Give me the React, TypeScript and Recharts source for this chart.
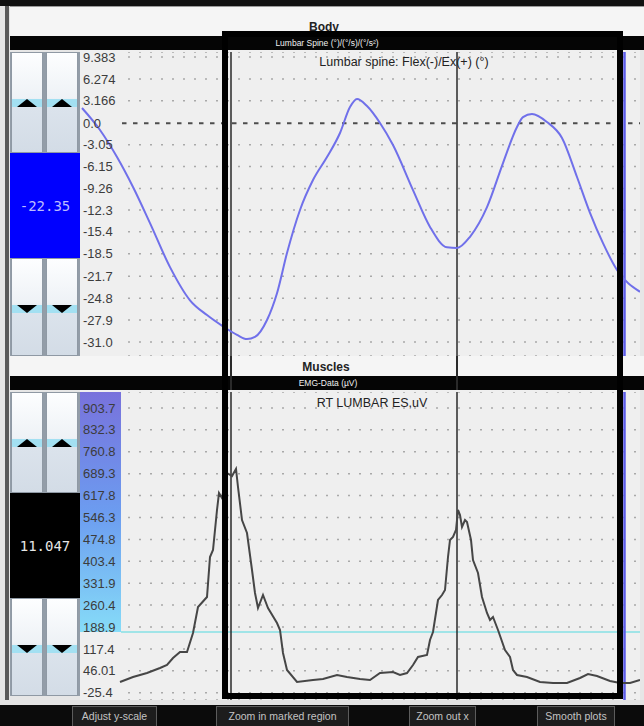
import React from "react";
import {
  CartesianGrid,
  Line,
  LineChart,
  ReferenceArea,
  ReferenceLine,
  XAxis,
  YAxis,
} from "recharts";

// time axis (s) shared by both plots
const T_MAX = 5.6;

// Lumbar spine flexion/extension (deg)
const spineTime = [
  0.02, 0.2, 0.37, 0.53, 0.7, 0.9, 1.1, 1.27, 1.43, 1.57, 1.67, 1.75, 1.87, 1.97,
  2.07, 2.2, 2.33, 2.47, 2.6, 2.7, 2.77, 2.87, 3.0, 3.13, 3.33, 3.5, 3.67, 3.77,
  3.9, 4.07, 4.23, 4.37, 4.43, 4.52, 4.67, 4.82, 4.97, 5.1, 5.23, 5.37, 5.6,
];
const spineAngle = [
  2.15, -0.97, -4.8, -9.05, -14.16, -20.4, -25.1, -27.2, -28.8, -30.0, -30.6,
  -30.3, -27.9, -24.1, -18.4, -12.3, -8.06, -4.8, -1.39, 2.29, 3.43, 2.43, 0.03,
  -3.1, -9.48, -14.7, -17.6, -17.7, -16.1, -11.9, -5.65, -0.54, 0.87, 1.3, 0.16,
  -2.1, -7.63, -12.7, -17.0, -20.8, -23.9,
];
const spineTickLabels = [
  "9.383", "6.274", "3.166", "0.0", "-3.05", "-6.15", "-9.26", "-12.3", "-15.4",
  "-18.5", "-21.7", "-24.8", "-27.9", "-31.0",
];
const spineDomain = [-33.0, 10.09];

// RT lumbar erector spinae EMG (uV)
const emgTime = [
  0.4, 0.53, 0.67, 0.8, 0.87, 0.93, 1.0, 1.07, 1.13, 1.18, 1.27, 1.3, 1.33, 1.37,
  1.39, 1.42, 1.47, 1.52, 1.56, 1.58, 1.62, 1.67, 1.72, 1.75, 1.78, 1.83, 1.88,
  1.97, 2.0, 2.03, 2.07, 2.17, 2.33, 2.43, 2.57, 2.67, 2.8, 2.9, 3.0, 3.13, 3.2,
  3.27, 3.33, 3.38, 3.47, 3.5, 3.53, 3.58, 3.62, 3.65, 3.68, 3.7, 3.73, 3.76,
  3.78, 3.8, 3.82, 3.85, 3.87, 3.91, 3.93, 3.98, 4.02, 4.07, 4.1, 4.13, 4.18,
  4.25, 4.3, 4.33, 4.37, 4.47, 4.6, 4.73, 4.87, 5.0, 5.08, 5.17, 5.3, 5.4, 5.5, 5.6,
];
const emgValue = [
  9.4, 25.7, 38.7, 55.1, 64.9, 87.7, 107.3, 107.3, 169.3, 254.2, 286.8, 417.4,
  440.2, 570.8, 626.3, 609.9, 691.5, 681.7, 704.6, 645.8, 538.1, 495.7, 374.9,
  299.9, 250.9, 293.3, 250.9, 201.9, 179.1, 104, 48.5, 9.4, 15.9, 19.2, 32.2,
  25.7, 19.2, 15.9, 38.7, 42.0, 32.2, 38.7, 64.9, 91.0, 97.5, 146.5, 172.6, 277,
  293.3, 309.7, 417.4, 472.9, 482.7, 505.5, 570.8, 554.5, 515.3, 538.1, 531.6,
  472.9, 407.6, 365.1, 286.8, 234.6, 211.7, 221.5, 179.1, 113.8, 91.0, 48.5, 32.2,
  25.7, 9.4, 6.1, 6.1, 22.4, 35.4, 28.9, 12.6, 6.1, 6.1, 15.9,
];
const emgTickLabels = [
  "903.7", "832.3", "760.8", "689.3", "617.8", "546.3", "474.8", "403.4", "331.9",
  "260.4", "188.9", "117.4", "46.01", "-25.4",
];
const emgDomain = [-49.4, 955.9];
const emgThreshold = 172.6;

// cursors / marked region (s)
const cursorTimes = [1.51, 3.77];
const blueCursor = 5.445;
const markedRegion = [1.42, 5.43];

const spineData = spineTime.map((t, i) => ({ t, v: spineAngle[i] }));
const emgData = emgTime.map((t, i) => ({ t, v: emgValue[i] }));

const PLOT_LEFT = 80;
const PLOT_W = 560;
const tToX = (t: number) => PLOT_LEFT + (t / T_MAX) * PLOT_W;

const FONT = "'Liberation Sans', Arial, sans-serif";
const MONO = "'DejaVu Sans Mono', 'Liberation Mono', monospace";

function labelFor(labels: string[]) {
  return (value: number) =>
    labels.find((l) => Number(l) === value) ?? String(value);
}

function box(left: number, top: number, width: number, height: number, extra: React.CSSProperties = {}): React.CSSProperties {
  return { position: "absolute", left, top, width, height, ...extra };
}

function ArrowButton({ left, top, height, dir }: { left: number; top: number; height: number; dir: "up" | "down" }) {
  const tri: React.CSSProperties =
    dir === "up"
      ? { borderLeft: "10px solid transparent", borderRight: "10px solid transparent", borderBottom: "8px solid #000" }
      : { borderLeft: "10px solid transparent", borderRight: "10px solid transparent", borderTop: "8px solid #000" };
  return (
    <div
      style={box(left, top, 32, height, {
        background: "linear-gradient(#fdfeff, #eef2f6 45%, #dbe3ec 55%, #d3dce6)",
        border: "1px solid #8f99a4",
        boxSizing: "border-box",
      })}
    >
      <div style={box(0, 46, 30, 8, { background: "#a3e0f2" })} />
      <div style={{ position: "absolute", left: 5, top: 46, width: 0, height: 0, ...tri }} />
    </div>
  );
}

function Controls({ top, value, bg, color }: { top: number; value: string; bg: string; color: string }) {
  return (
    <>
      <div style={box(10, top, 70, 304, { background: "#939da8" })} />
      <ArrowButton left={11} top={top} height={101} dir="up" />
      <ArrowButton left={46} top={top} height={101} dir="up" />
      <div
        style={box(10, top + 101, 70, 105, {
          background: bg,
          color,
          fontFamily: MONO,
          fontSize: 14,
          display: "flex",
          alignItems: "center",
          justifyContent: "center",
        })}
      >
        {value}
      </div>
      <ArrowButton left={11} top={top + 206} height={98} dir="down" />
      <ArrowButton left={46} top={top + 206} height={98} dir="down" />
    </>
  );
}

function Button({ left, width, label }: { left: number; width: number; label: string }) {
  return (
    <div
      style={box(left, 706, width, 22, {
        background: "#1d1d1d",
        border: "1px solid #5c5c5c",
        boxSizing: "border-box",
        color: "#c4c4c4",
        fontSize: 10.5,
        fontFamily: FONT,
        lineHeight: "19px",
        textAlign: "center",
      })}
    >
      {label}
    </div>
  );
}

const tickStyle = { fontSize: 13, fill: "#3c3c3c", fontFamily: FONT };

export default function App() {
  return (
    <div
      style={{
        position: "fixed",
        left: 0,
        top: 0,
        width: 644,
        height: 726,
        background: "#e6e6e6",
        overflow: "hidden",
        fontFamily: FONT,
      }}
    >
      {/* window chrome */}
      <div style={box(0, 0, 644, 6, { background: "#111" })} />
      <div style={box(5, 6, 4, 700, { background: "#5a5a5a" })} />
      <div style={box(10, 6, 634, 30, { background: "#f5f5f5", borderTop: "1px solid #9a9a9a", boxSizing: "border-box" })} />
      <div style={box(0, 20, 648, 16, { textAlign: "center", fontWeight: "bold", fontSize: 12, color: "#222" })}>Body</div>
      <div style={box(10, 36, 634, 14, { background: "#050505" })} />
      <div style={box(0, 37, 654, 12, { textAlign: "center", fontSize: 8.5, color: "#f0f0f0", lineHeight: "12px" })}>
        Lumbar Spine (°)/(°/s)/(°/s²)
      </div>

      {/* spine plot */}
      <div style={box(80, 50, 560, 306, { background: "#efefef" })} />
      <div style={box(80, 52, 560, 304)}>
        <LineChart width={560} height={304} data={spineData} margin={{ top: 0, right: 0, bottom: 0, left: 0 }}>
          <XAxis type="number" dataKey="t" domain={[0, T_MAX]} hide allowDataOverflow />
          <YAxis
            type="number"
            domain={spineDomain}
            ticks={spineTickLabels.map(Number)}
            interval={0}
            allowDataOverflow
            mirror
            axisLine={false}
            tickLine={false}
            tickSize={0}
            tickMargin={3}
            tick={tickStyle}
            tickFormatter={labelFor(spineTickLabels)}
          />
          <CartesianGrid x={48} width={512} vertical={false} stroke="#a9a9a9" strokeWidth={1.5} strokeDasharray="2 9" />
          <ReferenceLine
            segment={[{ x: 0.42, y: 0 }, { x: T_MAX, y: 0 }]}
            stroke="#efefef"
            strokeWidth={3}
          />
          <ReferenceLine
            segment={[{ x: 0.42, y: 0 }, { x: T_MAX, y: 0 }]}
            stroke="#4d4d4d"
            strokeWidth={2}
            strokeDasharray="4.5 6.5"
          />
          {cursorTimes.map((t) => (
            <ReferenceLine key={t} x={t} stroke="#2a2a2a" strokeWidth={1.5} />
          ))}
          <ReferenceLine x={blueCursor} stroke="#5c5ce8" strokeWidth={2.5} />
          <Line
            type="monotone"
            dataKey="v"
            stroke="#7070ea"
            strokeWidth={2}
            dot={false}
            isAnimationActive={false}
          />
        </LineChart>
      </div>
      <div style={box(404, 55, 0, 16)}>
        <div style={{ position: "absolute", transform: "translateX(-50%)", whiteSpace: "nowrap", fontSize: 12.5, color: "#222" }}>
          Lumbar spine: Flex(-)/Ex(+) (°)
        </div>
      </div>
      <Controls top={52} value="-22.35" bg="#0000ff" color="#bcbcff" />

      {/* muscles header */}
      <div style={box(10, 356, 634, 20, { background: "#f5f5f5" })} />
      <div style={box(0, 360, 652, 16, { textAlign: "center", fontWeight: "bold", fontSize: 12, color: "#222" })}>Muscles</div>
      <div style={box(10, 376, 634, 14, { background: "#050505" })} />
      <div style={box(10, 377, 634, 12)}>
        <div style={{ position: "absolute", left: 318, transform: "translateX(-50%)", fontSize: 8.5, color: "#f0f0f0", lineHeight: "12px", whiteSpace: "nowrap" }}>
          EMG-Data (µV)
        </div>
      </div>

      {/* EMG plot */}
      <div style={box(80, 390, 560, 310, { background: "#efefef" })} />
      <div style={box(80, 392, 560, 308)}>
        <LineChart width={560} height={308} data={emgData} margin={{ top: 0, right: 0, bottom: 0, left: 0 }}>
          <defs>
            <linearGradient id="emgScale" x1="0" y1="0" x2="0" y2="1">
              <stop offset="0%" stopColor="#7872dc" />
              <stop offset="50%" stopColor="#6c9cf0" />
              <stop offset="100%" stopColor="#86dcf8" />
            </linearGradient>
          </defs>
          <XAxis type="number" dataKey="t" domain={[0, T_MAX]} hide allowDataOverflow />
          <ReferenceArea x1={0} x2={0.41} y1={emgThreshold} y2={emgDomain[1]} fill="url(#emgScale)" fillOpacity={1} stroke="none" />
          <CartesianGrid x={48} width={512} vertical={false} stroke="#a9a9a9" strokeWidth={1.5} strokeDasharray="2 9" />
          <ReferenceLine
            segment={[{ x: 0.41, y: emgThreshold }, { x: T_MAX, y: emgThreshold }]}
            stroke="#86e0e4"
            strokeWidth={1.5}
          />
          {cursorTimes.map((t) => (
            <ReferenceLine key={t} x={t} stroke="#2a2a2a" strokeWidth={1.5} />
          ))}
          <ReferenceLine x={blueCursor} stroke="#5c5ce8" strokeWidth={2.5} />
          <YAxis
            type="number"
            domain={emgDomain}
            ticks={emgTickLabels.map(Number)}
            interval={0}
            allowDataOverflow
            mirror
            axisLine={false}
            tickLine={false}
            tickSize={0}
            tickMargin={3}
            tick={tickStyle}
            tickFormatter={labelFor(emgTickLabels)}
          />
          <Line
            type="linear"
            dataKey="v"
            stroke="#464646"
            strokeWidth={2}
            dot={false}
            isAnimationActive={false}
          />
        </LineChart>
      </div>
      <div style={box(372, 396, 0, 16)}>
        <div style={{ position: "absolute", transform: "translateX(-50%)", whiteSpace: "nowrap", fontSize: 12.5, color: "#222" }}>
          RT LUMBAR ES,uV
        </div>
      </div>
      <Controls top={392} value="11.047" bg="#000" color="#e6e6e6" />

      {/* cursor lines crossing the header bands */}
      {cursorTimes.map((t) => (
        <React.Fragment key={t}>
          <div style={box(tToX(t) - 0.75, 356, 1.5, 34, { background: "#2a2a2a" })} />
          <div style={box(tToX(t) - 0.75, 700, 1.5, 4, { background: "#2a2a2a" })} />
        </React.Fragment>
      ))}

      {/* marked region frame */}
      <div
        style={box(tToX(markedRegion[0]), 31, tToX(markedRegion[1]) - tToX(markedRegion[0]), 668, {
          border: "6px solid #000",
          boxSizing: "border-box",
        })}
      />

      {/* bottom toolbar */}
      <div style={box(0, 700, 644, 5, { background: "#e2e2e2" })} />
      <div style={box(0, 705, 644, 21, { background: "#0b0b0b" })} />
      <Button left={72} width={85} label="Adjust y-scale" />
      <Button left={216} width={133} label="Zoom in marked region" />
      <Button left={409} width={67} label="Zoom out x" />
      <Button left={537} width={78} label="Smooth plots" />
    </div>
  );
}
